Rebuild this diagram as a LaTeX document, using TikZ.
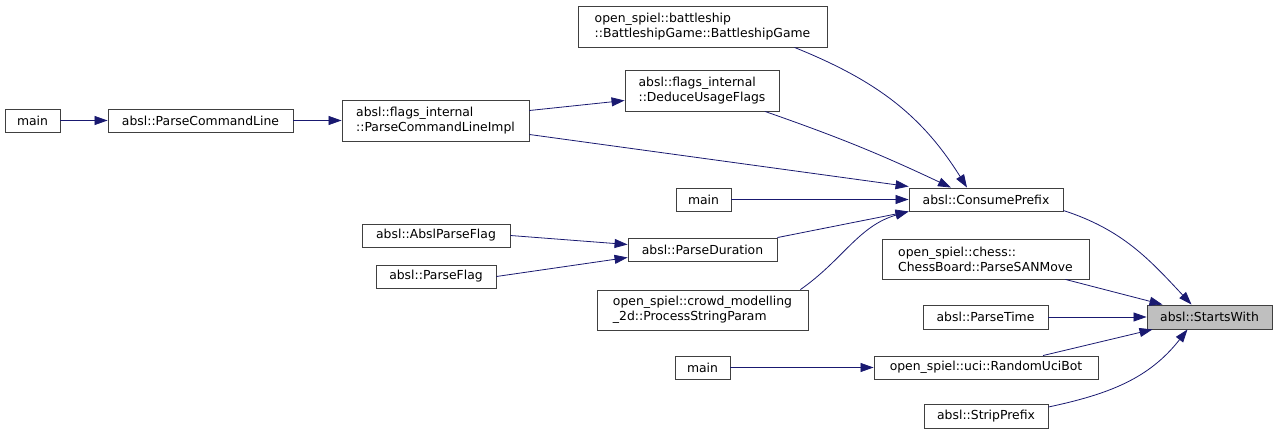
\documentclass[tikz,border=0pt]{standalone}
\usepackage{fontspec}
\setmainfont{DejaVu Sans}
\usepackage{xcolor}
\usepackage{tikz}
\usetikzlibrary{arrows.meta,positioning,calc}
\definecolor{edgeblue}{HTML}{191970}
\definecolor{boxgray}{HTML}{404040}

\begin{document}
\begin{tikzpicture}[x=1pt,y=-1pt,
  box/.style={draw=boxgray,line width=0.9pt,fill=white,rectangle,minimum height=23,
    inner sep=0pt,align=left,font=\fontsize{12.4}{15}\selectfont},
  tall/.style={box,minimum height=41},
  calls/.style={draw=edgeblue,line width=0.8pt,-{Triangle[length=13pt,width=9pt]}}]
  \useasboundingbox (0,0) rectangle (1277,438);
  % callers, far left
  \node[box,minimum width=55] (m1) at (32.5,120.5) {main};
  \node[box,minimum width=185] (pcl) at (200.5,120.5) {absl::ParseCommandLine};
  \node[tall,minimum width=187] (pcli) at (435.5,120.5) {absl::flags\_internal\\::ParseCommandLineImpl};
  \node[box,minimum width=148] (apf) at (436,235.5) {absl::AbslParseFlag};
  \node[box,minimum width=120] (pf) at (436,276.5) {absl::ParseFlag};
  % middle column
  \node[tall,minimum width=249] (bs) at (702.5,26.5) {open\_spiel::battleship\\::BattleshipGame::BattleshipGame};
  \node[tall,minimum width=154] (du) at (702,90.5) {absl::flags\_internal\\::DeduceUsageFlags};
  \node[box,minimum width=55] (m2) at (703.5,199.5) {main};
  \node[box,minimum width=149] (pd) at (702.5,249.5) {absl::ParseDuration};
  \node[tall,minimum width=211,minimum height=40] (psp) at (702.5,310) {open\_spiel::crowd\_modelling\\\_2d::ProcessStringParam};
  \node[box,minimum width=55] (m3) at (702.5,367.5) {main};
  % direct callers
  \node[box,minimum width=154] (cp) at (986,199.5) {absl::ConsumePrefix};
  \node[tall,minimum width=207,minimum height=40] (cb) at (985.5,259) {open\_spiel::chess::\\ChessBoard::ParseSANMove};
  \node[box,minimum width=125,minimum height=24] (pt) at (985.5,317) {absl::ParseTime};
  \node[box,minimum width=224] (ru) at (986,367.5) {open\_spiel::uci::RandomUciBot};
  \node[box,minimum width=124,minimum height=24] (sp) at (986,416) {absl::StripPrefix};
  \node[box,minimum width=125,minimum height=24,fill=black!25] (sw) at (1209.5,317) {absl::StartsWith};

  \draw[calls] (m1) -- (pcl);
  \draw[calls] (pcl) -- (pcli);
  \draw[calls] ([yshift=10]pcli.east) -- ([yshift=-10]du.west);
  \draw[calls] ([yshift=-14]pcli.east) -- ([yshift=13]cp.west);
  \draw[calls] ([xshift=92]bs.south) to[out=-22,in=122] ([xshift=-19]cp.north);
  \draw[calls] ([xshift=63]du.south) to[bend left=3] ([xshift=-35]cp.north);
  \draw[calls] (m2) -- (cp);
  \draw[calls] (pd.north east) -- ([yshift=-12]cp.west);
  \draw[calls] ([xshift=-8]psp.north east) to[out=35,in=196] ([yshift=-12]cp.west);
  \draw[calls] (apf.east) -- ([yshift=5]pd.west);
  \draw[calls] (pf.east) -- ([yshift=-8]pd.west);
  \draw[calls] (m3) -- (ru);
  \draw[calls] ([yshift=-11]cp.east) to[out=-18,in=133] ([xshift=-18]sw.north);
  \draw[calls] ([xshift=80]cb.south) -- ([xshift=-47]sw.north);
  \draw[calls] (pt) -- (sw);
  \draw[calls] ([xshift=57]ru.north) -- ([xshift=-57]sw.south);
  \draw[calls] ([yshift=9]sp.east) to[out=12,in=-128] ([xshift=-22]sw.south);
\end{tikzpicture}
\end{document}
